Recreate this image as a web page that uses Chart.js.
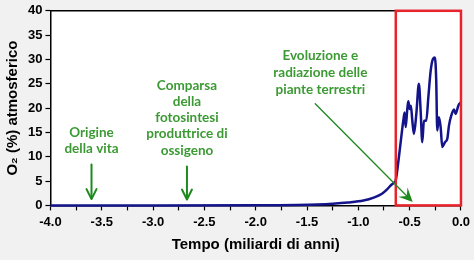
<!doctype html>
<html lang="it">
<head>
    <meta charset="UTF-8" />
    <title>Ossigeno atmosferico</title>
    <style>
        html, body { margin: 0; padding: 0; background: #f1f1f1; }
        #wrap { width: 474px; height: 260px; }
    </style>
</head>
<body>
<div id="wrap"><canvas id="myChart" width="474" height="260"></canvas></div>
<script src="https://cdn.jsdelivr.net/npm/chart.js"></script>
<script>
    // tempo (miliardi di anni) e O2 atmosferico (%)
    const tempo = [-4.0, -3.0, -2.0, -1.8, -1.6, -1.4, -1.25, -1.1, -0.95, -0.85, -0.77, -0.72, -0.68, -0.65,
        -0.635, -0.605, -0.582, -0.562, -0.549, -0.539, -0.523, -0.513, -0.5, -0.488, -0.474, -0.458, -0.435,
        -0.41, -0.393, -0.377, -0.361, -0.338, -0.318, -0.295, -0.273, -0.254, -0.241, -0.231, -0.215, -0.198,
        -0.182, -0.156, -0.133, -0.117, -0.094, -0.068, -0.052, -0.026, 0.0];
    const ossigeno = [0, 0, 0.02, 0.05, 0.1, 0.2, 0.35, 0.6, 1.0, 1.6, 2.4, 3.3, 4.2, 4.7,
        5.2, 9.9, 14.0, 17.4, 19.1, 16.1, 19.8, 21.4, 19.8, 20.5, 17.4, 14.7, 18.8,
        25.0, 19.5, 13.0, 17.4, 17.4, 22.2, 27.7, 30.1, 30.4, 25.6, 15.4, 18.1, 16.1,
        12.0, 13.0, 13.7, 16.4, 18.5, 19.7, 18.8, 20.5, 21.2];
    const xTicks = [-4.0, -3.5, -3.0, -2.5, -2.0, -1.5, -1.0, -0.5, 0.0];
    const yTicks = [0, 5, 10, 15, 20, 25, 30, 35, 40];
    const finestra = [-0.635, 0.0];

    // note: righe di testo, x, y di ogni riga, freccia [x0, y0, x1, y1]
    const note = [
        { righe: ['Origine', 'della vita'], x: -3.6, y: [15.0, 11.7], freccia: [-3.6, 8.4, -3.6, 1.3] },
        { righe: ['Comparsa', 'della', 'fotosintesi', 'produttrice di', 'ossigeno'], x: -2.67,
          y: [24.6, 21.3, 18.0, 14.7, 11.3], freccia: [-2.67, 8.0, -2.67, 1.2] },
        { righe: ['Evoluzione e', 'radiazione delle', 'piante terrestri'], x: -1.37,
          y: [30.8, 27.2, 23.7], freccia: [-1.42, 20.9, -0.47, 0.7] }
    ];

    const pts = tempo.map((t, i) => ({ x: t, y: ossigeno[i] }));

    const sfondo = {
        id: 'sfondo',
        beforeDraw(chart) {
            const { ctx, chartArea: a } = chart;
            ctx.save();
            ctx.fillStyle = '#ffffff';
            ctx.fillRect(a.left, a.top, a.right - a.left, a.bottom - a.top);
            ctx.restore();
        },
        afterDraw(chart) {
            const { ctx, chartArea: a, scales } = chart;
            const sx = scales.x, sy = scales.y;
            ctx.save();
            // bordo superiore
            ctx.strokeStyle = '#000';
            ctx.lineWidth = 1.5;
            ctx.beginPath();
            ctx.moveTo(a.left, a.top);
            ctx.lineTo(a.right, a.top);
            ctx.stroke();
            // riquadro rosso
            const x0 = sx.getPixelForValue(finestra[0]), x1 = sx.getPixelForValue(finestra[1]);
            ctx.strokeStyle = '#e8232b';
            ctx.lineWidth = 2.5;
            ctx.strokeRect(x0, a.top, x1 - x0, a.bottom - a.top);
            // note
            ctx.font = 'bold 13.5px Lato, "Open Sans", sans-serif';
            ctx.textAlign = 'center';
            ctx.textBaseline = 'middle';
            note.forEach(n => {
                ctx.fillStyle = '#3c9a34';
                n.righe.forEach((r, i) => ctx.fillText(r, sx.getPixelForValue(n.x), sy.getPixelForValue(n.y[i])));
                const f = n.freccia;
                const ax = sx.getPixelForValue(f[0]), ay = sy.getPixelForValue(f[1]);
                const bx = sx.getPixelForValue(f[2]), by = sy.getPixelForValue(f[3]);
                const ang = Math.atan2(by - ay, bx - ax);
                const c = Math.cos(ang), s = Math.sin(ang);
                const verticale = Math.abs(bx - ax) < 1;
                const len = verticale ? 10 : 14, w = verticale ? 5 : 6.5;
                ctx.strokeStyle = '#1e8a1e';
                ctx.fillStyle = '#1e8a1e';
                ctx.lineWidth = verticale ? 2 : 1.3;
                ctx.lineCap = 'round';
                ctx.lineJoin = 'round';
                ctx.beginPath();
                ctx.moveTo(ax, ay);
                ctx.lineTo(bx - c * (verticale ? 1 : len * 0.6), by - s * (verticale ? 1 : len * 0.6));
                ctx.stroke();
                ctx.beginPath();
                if (verticale) {
                    ctx.moveTo(bx - c * len - s * w, by - s * len + c * w);
                    ctx.lineTo(bx, by);
                    ctx.lineTo(bx - c * len + s * w, by - s * len - c * w);
                    ctx.stroke();
                } else {
                    ctx.moveTo(bx, by);
                    ctx.lineTo(bx - c * len - s * w, by - s * len + c * w);
                    ctx.lineTo(bx - c * len * 0.6, by - s * len * 0.6);
                    ctx.lineTo(bx - c * len + s * w, by - s * len - c * w);
                    ctx.closePath();
                    ctx.fill();
                }
            });
            ctx.restore();
        }
    };

    const ctx = document.getElementById('myChart');
    chart = new Chart(ctx, {
        type: 'scatter',
        data: {
            datasets: [{
                data: pts,
                showLine: true,
                borderColor: '#14148a',
                borderWidth: 2.5,
                pointRadius: 0,
                cubicInterpolationMode: 'monotone',
                clip: 6
            }]
        },
        options: {
            responsive: false,
            animation: false,
            layout: { padding: { top: 10, right: 12, bottom: 6, left: 4 } },
            plugins: { legend: { display: false }, tooltip: { enabled: false } },
            scales: {
                x: {
                    type: 'linear',
                    min: -4, max: 0,
                    ticks: {
                        stepSize: 0.25,
                        color: '#000',
                        font: { family: 'Arial, "Liberation Sans"', size: 13, weight: 'bold' },
                        maxRotation: 0,
                        autoSkip: false,
                        padding: 4,
                        callback: v => xTicks.some(t => Math.abs(t - v) < 1e-6) ? v.toFixed(1) : ''
                    },
                    grid: { display: true, drawOnChartArea: false, color: '#000', tickLength: 5, tickWidth: 1.2 },
                    border: { color: '#000', width: 1.5 },
                    title: {
                        display: true, text: 'Tempo (miliardi di anni)', color: '#000',
                        font: { family: 'Arial, "Liberation Sans"', size: 15, weight: 'bold' },
                        padding: { top: 2, bottom: 0 }
                    }
                },
                y: {
                    min: 0, max: 40,
                    afterBuildTicks: s => { s.ticks = yTicks.map(v => ({ value: v })); },
                    ticks: {
                        color: '#000',
                        font: { family: 'Arial, "Liberation Sans"', size: 13, weight: 'bold' },
                        padding: 3
                    },
                    grid: { display: true, drawOnChartArea: false, color: '#000', tickLength: 5, tickWidth: 1.2 },
                    border: { color: '#000', width: 1.5 },
                    title: {
                        display: true, text: 'O₂ (%) atmosferico', color: '#000',
                        font: { family: 'Arial, "Liberation Sans"', size: 15, weight: 'bold' },
                        padding: { top: 0, bottom: 3 }
                    }
                }
            }
        },
        plugins: [sfondo]
    });
</script>
</body>
</html>
